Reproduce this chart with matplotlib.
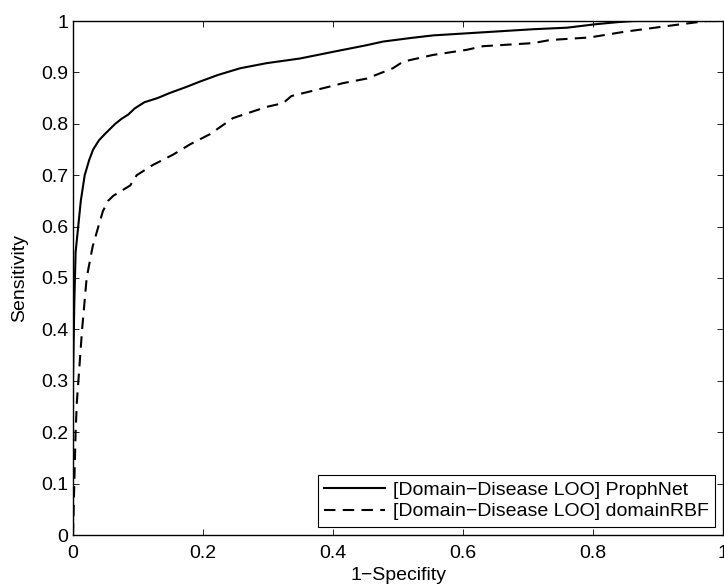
import numpy as np
import matplotlib
matplotlib.use("Agg")
import matplotlib.pyplot as plt

plt.rcParams['font.family'] = ['Liberation Sans', 'DejaVu Sans']

# ROC 曲线数据
prophnet_fpr = [0.0, 0.0, 0.002, 0.004, 0.008, 0.012, 0.018, 0.025, 0.031, 0.04,
                0.049, 0.065, 0.075, 0.085, 0.095, 0.11, 0.13, 0.149, 0.175, 0.195,
                0.223, 0.257, 0.298, 0.349, 0.4, 0.452, 0.477, 0.52, 0.554, 0.631,
                0.708, 0.76, 0.806, 0.84, 0.863, 1.0]
prophnet_tpr = [0.0, 0.3, 0.45, 0.55, 0.6, 0.65, 0.70, 0.73, 0.75, 0.768,
                0.78, 0.80, 0.81, 0.818, 0.83, 0.842, 0.85, 0.86, 0.872, 0.882,
                0.895, 0.908, 0.918, 0.927, 0.94, 0.953, 0.96, 0.967, 0.972, 0.978,
                0.984, 0.987, 0.994, 0.998, 1.0, 1.0]

rbf_fpr = [0.0, 0.002, 0.004, 0.006, 0.01, 0.014, 0.021, 0.03, 0.039, 0.046,
           0.054, 0.062, 0.088, 0.098, 0.123, 0.154, 0.18, 0.211, 0.246, 0.298,
           0.323, 0.336, 0.4, 0.415, 0.452, 0.492, 0.508, 0.554, 0.606, 0.631,
           0.708, 0.734, 0.795, 0.848, 0.925, 0.975, 1.0]
rbf_tpr = [0.0, 0.1, 0.2, 0.26, 0.33, 0.40, 0.5, 0.56, 0.6, 0.63,
           0.65, 0.66, 0.68, 0.70, 0.72, 0.74, 0.76, 0.78, 0.811, 0.833,
           0.84, 0.854, 0.874, 0.879, 0.888, 0.908, 0.921, 0.934, 0.944, 0.951,
           0.957, 0.963, 0.968, 0.979, 0.992, 1.0, 1.0]

labels = ["[Domain\u2212Disease LOO] ProphNet", "[Domain\u2212Disease LOO] domainRBF"]
xticks = [0, 0.2, 0.4, 0.6, 0.8, 1]
yticks = [0, 0.1, 0.2, 0.3, 0.4, 0.5, 0.6, 0.7, 0.8, 0.9, 1]

fig = plt.figure(figsize=(7.24, 5.84), dpi=100)
ax = fig.add_axes([73/724, 49/584, 650/724, 514/584])

ax.plot(prophnet_fpr, prophnet_tpr, color='black', lw=1.5, ls='-', label=labels[0])
ax.plot(rbf_fpr, rbf_tpr, color='black', lw=1.5, ls=(0, (5.5, 3.5)), label=labels[1])

ax.set_xlim(0, 1)
ax.set_ylim(0, 1)
ax.set_xticks(xticks)
ax.set_xticklabels([("%g" % t) for t in xticks])
ax.set_yticks(yticks)
ax.set_yticklabels([("%g" % t) for t in yticks])
ax.tick_params(direction='in', length=4.5, width=0.6, top=True, right=True,
               labelsize=14)
ax.tick_params(axis='x', pad=7)
ax.tick_params(axis='y', pad=3.5)
for s in ax.spines.values():
    s.set_linewidth(1.0)

ax.set_xlabel("1\u2212Specifity", fontsize=14, labelpad=4)
ax.set_ylabel("Sensitivity", fontsize=14, labelpad=9)

leg = ax.legend(loc='lower right', fontsize=14, fancybox=False, framealpha=1,
                edgecolor='black', handlelength=3.1, borderaxespad=0.4,
                labelspacing=0.2, borderpad=0.35, handletextpad=0.4)
leg.get_frame().set_linewidth(0.8)

fig.savefig("out.png", dpi=100)
